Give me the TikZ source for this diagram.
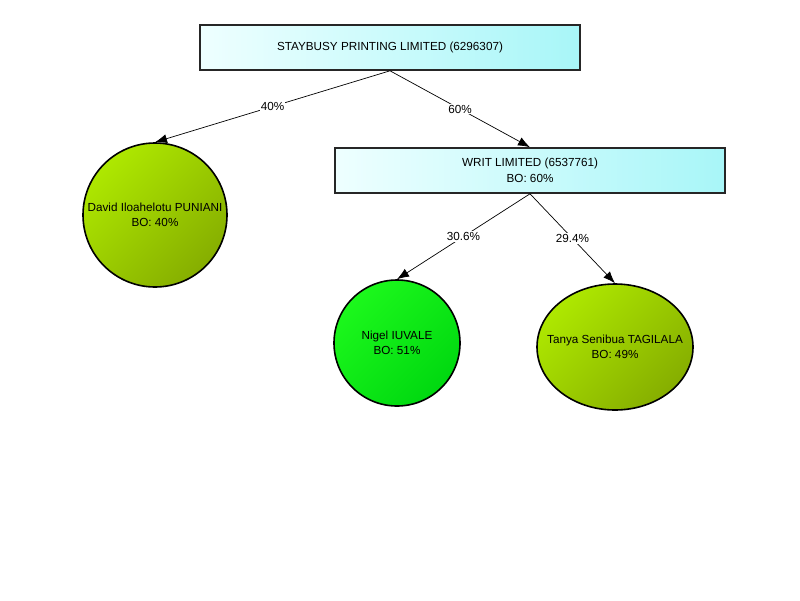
\documentclass[tikz,border=0pt]{standalone}
\usepackage{fontspec}
\setmainfont{Liberation Sans}
\usetikzlibrary{shapes.geometric,arrows.meta}
\definecolor{boxL}{HTML}{EEFFFF}
\definecolor{boxR}{HTML}{A8F6F8}
\definecolor{olA}{HTML}{AEE800}
\definecolor{olB}{HTML}{86AE00}
\definecolor{grA}{HTML}{1CF81C}
\definecolor{grB}{HTML}{00D810}
\tikzset{
  txt/.style={font=\fontsize{11.7}{15.5}\selectfont},
  company/.style={draw=black!85, line width=1.6pt, rectangle, minimum width=380pt, minimum height=45pt,
    left color=boxL, right color=boxR, align=center, txt, inner sep=0pt},
  person/.style={draw=black, line width=1.6pt, align=center, txt, inner sep=0pt},
  olive/.style={top color=olA, bottom color=olB, shading angle=45},
  green/.style={top color=grA, bottom color=grB, shading angle=45},
  link/.style={draw=black, line width=0.7pt, -{Latex[length=12pt,width=9pt]}},
  pct/.style={fill=white, inner sep=1pt, txt, pos=0.5}
}
\begin{document}
\begin{tikzpicture}[x=1pt,y=-1pt]
\useasboundingbox (0,0) rectangle (800,600);
\fill[white] (0,0) rectangle (800,600);
\node[company] (top) at (390,47.5) {STAYBUSY PRINTING LIMITED (6296307)};
\node[company, minimum width=390pt] (writ) at (530,170.5) {WRIT LIMITED (6537761)\\BO: 60\%};
\node[person, circle, olive, minimum size=144pt, inner sep=-6pt] (david) at (155,215) {David Iloahelotu PUNIANI\\BO: 40\%};
\node[person, circle, green, minimum size=126pt] (nigel) at (397,343) {Nigel IUVALE\\BO: 51\%};
\node[person, ellipse, olive, minimum width=156pt, minimum height=126pt, inner xsep=-22pt, inner ysep=0pt] (tanya) at (615,347) {Tanya Senibua TAGILALA\\BO: 49\%};
\draw[link] (top.south) -- node[pct] {40\%} (david.north);
\draw[link] (top.south) -- node[pct] {60\%} (writ.north);
\draw[link] (writ.south) -- node[pct] {30.6\%} (nigel.north);
\draw[link] (writ.south) -- node[pct] {29.4\%} (tanya.north);
\end{tikzpicture}
\end{document}
